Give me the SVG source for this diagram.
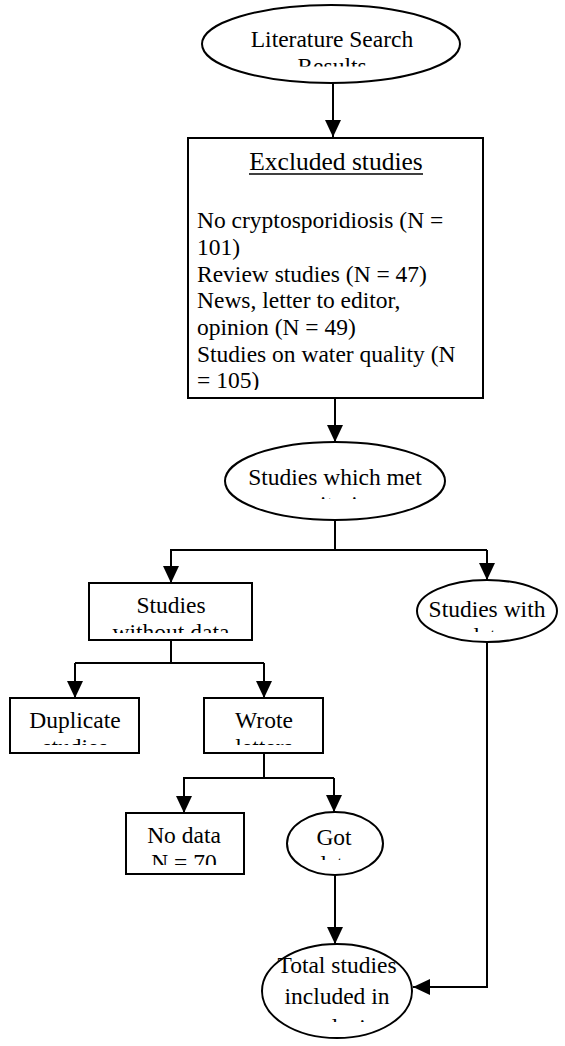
<svg xmlns="http://www.w3.org/2000/svg" width="565" height="1046" viewBox="0 0 565 1046">
<style>
.shape{fill:#fff;stroke:#000;stroke-width:2}
.t{font-family:"Liberation Serif","Times New Roman",serif;font-size:23.5px;fill:#000}
.title{font-size:25.5px}
.c{text-anchor:middle}
.ln{fill:none;stroke:#000;stroke-width:2}
</style>
<defs>
<marker id="ah" markerUnits="userSpaceOnUse" markerWidth="18" markerHeight="18" viewBox="0 0 18 18" refX="17" refY="9" orient="auto">
<path d="M0,1 L17,9 L0,17 Z" fill="#000"/>
</marker>
<clipPath id="c1"><rect x="190" y="0" width="290" height="66.5"/></clipPath>
<clipPath id="c2"><rect x="190" y="140" width="290" height="250"/></clipPath>
<clipPath id="c3"><rect x="220" y="440" width="230" height="59"/></clipPath>
<clipPath id="c4"><rect x="85" y="580" width="170" height="53"/></clipPath>
<clipPath id="c5"><rect x="415" y="578" width="145" height="54"/></clipPath>
<clipPath id="c6"><rect x="8" y="695" width="135" height="50"/></clipPath>
<clipPath id="c7"><rect x="200" y="695" width="127" height="50"/></clipPath>
<clipPath id="c8"><rect x="123" y="810" width="124" height="55"/></clipPath>
<clipPath id="c9"><rect x="285" y="810" width="100" height="50"/></clipPath>
<clipPath id="c10"><rect x="260" y="940" width="160" height="82"/></clipPath>
</defs>
<g id="connectors">
<path class="ln" d="M333,83 V137" marker-end="url(#ah)"/>
<path class="ln" d="M335,398 V442" marker-end="url(#ah)"/>
<path class="ln" d="M335,520 V550 M170,550 H487"/>
<path class="ln" d="M171,550 V583" marker-end="url(#ah)"/>
<path class="ln" d="M487,550 V580" marker-end="url(#ah)"/>
<path class="ln" d="M487,642 V987 H413" marker-end="url(#ah)"/>
<path class="ln" d="M171,640 V663 M75,663 H264"/>
<path class="ln" d="M75,663 V698" marker-end="url(#ah)"/>
<path class="ln" d="M264,663 V698" marker-end="url(#ah)"/>
<path class="ln" d="M264,753 V778 M183,778 H334"/>
<path class="ln" d="M184,778 V813" marker-end="url(#ah)"/>
<path class="ln" d="M334,778 V812" marker-end="url(#ah)"/>
<path class="ln" d="M335,875 V944" marker-end="url(#ah)"/>
</g>
<g id="literature-search">
<ellipse class="shape" cx="331" cy="44" rx="129" ry="39"/>
<g clip-path="url(#c1)">
<text class="t c" x="332" y="47">Literature Search</text>
<text class="t c" x="332" y="74">Results</text>
</g>
</g>
<g id="excluded-studies">
<rect class="shape" x="188" y="138" width="295" height="260"/>
<g clip-path="url(#c2)">
<text class="t title c" x="336" y="170">Excluded studies</text>
<text class="t" x="197" y="228">No cryptosporidiosis (N =</text>
<text class="t" x="197" y="255">101)</text>
<text class="t" x="197" y="281.5">Review studies (N = 47)</text>
<text class="t" x="197" y="308">News, letter to editor,</text>
<text class="t" x="197" y="335">opinion (N = 49)</text>
<text class="t" x="197" y="361.5">Studies on water quality (N</text>
<text class="t" x="197" y="388">= 105)</text>
</g>
<line x1="249" y1="174" x2="423" y2="174" stroke="#000" stroke-width="1.4"/>
</g>
<g id="met-criteria">
<ellipse class="shape" cx="335" cy="481" rx="110" ry="39"/>
<g clip-path="url(#c3)">
<text class="t c" x="335" y="485">Studies which met</text>
<text class="t c" x="335" y="512">criteria</text>
</g>
</g>
<g id="without-data">
<rect class="shape" x="89" y="583" width="163" height="57"/>
<g clip-path="url(#c4)">
<text class="t c" x="171" y="613">Studies</text>
<text class="t c" x="171" y="640">without data</text>
</g>
</g>
<g id="with-data">
<ellipse class="shape" cx="487" cy="611" rx="70" ry="31"/>
<g clip-path="url(#c5)">
<text class="t c" x="487" y="617">Studies with</text>
<text class="t c" x="487" y="644">data</text>
</g>
</g>
<g id="duplicate">
<rect class="shape" x="10" y="698" width="129" height="55"/>
<g clip-path="url(#c6)">
<text class="t c" x="75" y="728">Duplicate</text>
<text class="t c" x="75" y="755">studies</text>
</g>
</g>
<g id="wrote-letters">
<rect class="shape" x="204" y="698" width="119" height="55"/>
<g clip-path="url(#c7)">
<text class="t c" x="264" y="728">Wrote</text>
<text class="t c" x="264" y="755">letters</text>
</g>
</g>
<g id="no-data">
<rect class="shape" x="126" y="813" width="118" height="61"/>
<g clip-path="url(#c8)">
<text class="t c" x="184" y="843">No data</text>
<text class="t c" x="184" y="870">N = 70</text>
</g>
</g>
<g id="got-data">
<ellipse class="shape" cx="335" cy="843.5" rx="48" ry="31.5"/>
<g clip-path="url(#c9)">
<text class="t c" x="334" y="845">Got</text>
<text class="t c" x="334" y="872">data</text>
</g>
</g>
<g id="total-studies">
<ellipse class="shape" cx="337" cy="991" rx="75" ry="47"/>
<g clip-path="url(#c10)">
<text class="t c" x="337" y="973">Total studies</text>
<text class="t c" x="337" y="1004">included in</text>
<text class="t c" x="337" y="1035">analysis</text>
</g>
</g>
</svg>
